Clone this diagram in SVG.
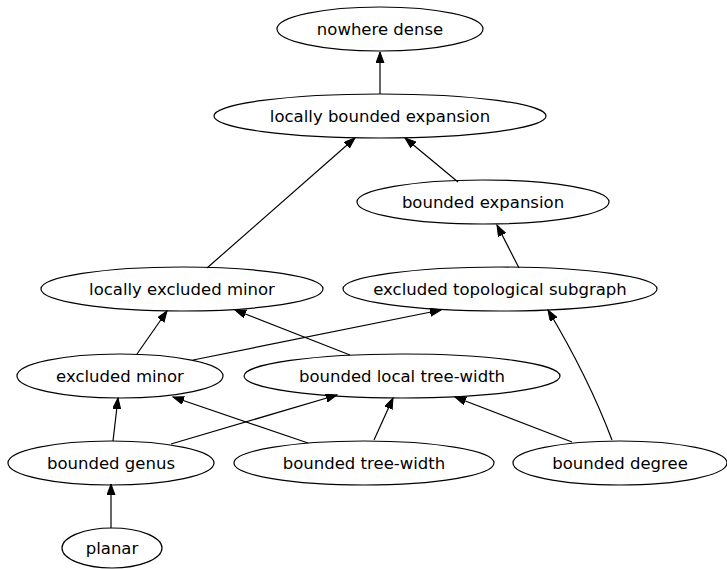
<svg xmlns="http://www.w3.org/2000/svg" width="727" height="569" viewBox="0 0 727 569">
<style>
.n ellipse{fill:none;stroke:#000;stroke-width:1.2}
.n text{font-family:"DejaVu Sans",sans-serif;font-size:16.5px;text-anchor:middle;fill:#000}
.e path{fill:none;stroke:#000;stroke-width:1.2;marker-end:url(#ah)}
</style>
<defs>
<marker id="ah" markerUnits="userSpaceOnUse" markerWidth="12" markerHeight="9" refX="11" refY="4" orient="auto">
<path d="M0,0 L11,4 L0,8 z" fill="#000" stroke="#000" stroke-width="1"/>
</marker>
</defs>
<rect width="727" height="569" fill="#fff"/>
<g class="e" id="edges">
<path d="M380,94 L380,52"/>
<path d="M207,268 L355,138"/>
<path d="M458,182 L405,138"/>
<path d="M519,268 L497,225"/>
<path d="M137,354 L167,311"/>
<path d="M193,360 L441,310"/>
<path d="M350,355 L235,310"/>
<path d="M113,441 L118,398"/>
<path d="M171,444 L337,395"/>
<path d="M308,443 L173,397"/>
<path d="M374,440 L393,398"/>
<path d="M572,442 L455,397"/>
<path d="M612,440 C595,395 572,350 548,310"/>
<path d="M111,528 L111,484"/>
</g>
<g class="n" id="nowhere_dense"><ellipse cx="380" cy="29" rx="103" ry="22"/><text x="380" y="35">nowhere dense</text></g>
<g class="n" id="locally_bounded_expansion"><ellipse cx="380" cy="116" rx="166" ry="22"/><text x="380" y="122">locally bounded expansion</text></g>
<g class="n" id="bounded_expansion"><ellipse cx="483" cy="202" rx="126" ry="22"/><text x="483" y="208">bounded expansion</text></g>
<g class="n" id="excluded_topological_subgraph"><ellipse cx="500" cy="289" rx="157" ry="22"/><text x="500" y="295">excluded topological subgraph</text></g>
<g class="n" id="locally_excluded_minor"><ellipse cx="182" cy="289" rx="141" ry="22"/><text x="182" y="295">locally excluded minor</text></g>
<g class="n" id="excluded_minor"><ellipse cx="120" cy="376" rx="103" ry="22"/><text x="120" y="382">excluded minor</text></g>
<g class="n" id="bounded_local_tree_width"><ellipse cx="402" cy="376" rx="158" ry="22"/><text x="402" y="382">bounded local tree-width</text></g>
<g class="n" id="bounded_genus"><ellipse cx="111" cy="463" rx="103" ry="22"/><text x="111" y="469">bounded genus</text></g>
<g class="n" id="bounded_tree_width"><ellipse cx="364" cy="463" rx="130" ry="22"/><text x="364" y="469">bounded tree-width</text></g>
<g class="n" id="bounded_degree"><ellipse cx="620" cy="463" rx="107" ry="22"/><text x="620" y="469">bounded degree</text></g>
<g class="n" id="planar"><ellipse cx="112" cy="548" rx="50" ry="20"/><text x="112" y="554">planar</text></g>
</svg>
